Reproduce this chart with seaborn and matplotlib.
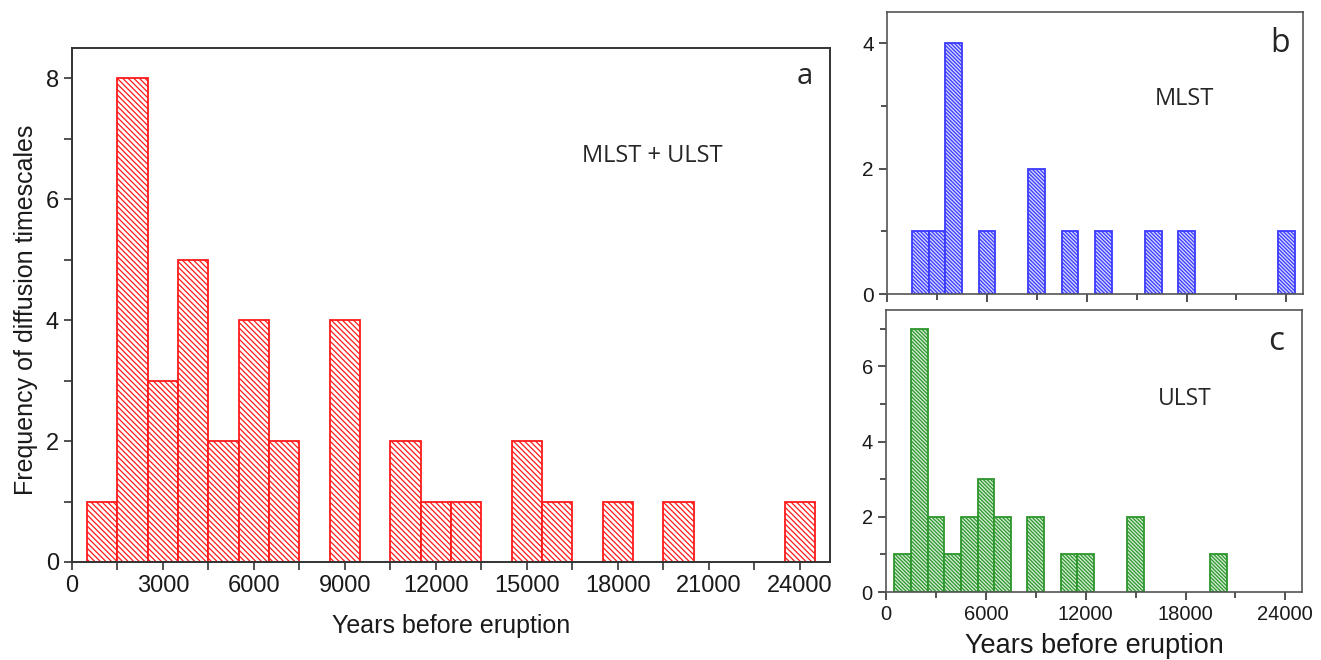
import pandas as pd
import matplotlib.pyplot as plt
from matplotlib.ticker import MultipleLocator
import seaborn as sns

# bin centres (years before eruption) and counts per 1000-yr bin
mlst_years = [2000, 3000, 4000, 6000, 9000, 11000, 13000, 16000, 18000, 24000]
mlst_counts = [1, 1, 4, 1, 2, 1, 1, 1, 1, 1]
ulst_years = [1000, 2000, 3000, 4000, 5000, 6000, 7000, 9000, 11000, 12000, 15000, 20000]
ulst_counts = [1, 7, 2, 1, 2, 3, 2, 2, 1, 1, 2, 1]

all_years = mlst_years + ulst_years
all_counts = mlst_counts + ulst_counts

sns.set_style("ticks")
plt.rcParams['font.family'] = ['Liberation Sans', 'DejaVu Sans']
plt.rcParams['hatch.linewidth'] = 0.9

fig = plt.figure(figsize=(13.21, 6.6), dpi=100)
ax_a = fig.add_axes([0.0545, 0.1485, 0.5738, 0.7788])
ax_b = fig.add_axes([0.6715, 0.5545, 0.3149, 0.4273])
ax_c = fig.add_axes([0.6707, 0.1030, 0.3149, 0.4273])


def hist(ax, years, counts, edge, face, hatch):
    df = pd.DataFrame({'years': years, 'n': counts})
    sns.histplot(data=df, x='years', weights='n', binwidth=1000,
                 binrange=(500, 24500), ax=ax,
                 color=face, edgecolor=edge, linewidth=1.3, alpha=1)
    for p in ax.patches:
        p.set_hatch(hatch)
        p.set_facecolor(face)
        p.set_edgecolor(edge)
        if p.get_height() == 0:
            p.set_visible(False)


hist(ax_a, all_years, all_counts, '#ff1a1a', 'white', '\\' * 6)
hist(ax_b, mlst_years, mlst_counts, '#3a3aff', '#d4d6ff', '\\' * 9)
hist(ax_c, ulst_years, ulst_counts, '#2c962c', '#d2ebd2', '\\' * 9)

for ax in (ax_a, ax_b, ax_c):
    ax.set_xlim(0, 25000)
    for s in ax.spines.values():
        s.set_visible(True)
        s.set_color('#333333')
        s.set_linewidth(1.4)
    ax.tick_params(which='both', direction='out', length=6, width=1.2,
                   color='#333333', labelcolor='#1a1a1a', top=False, right=False)
    ax.set_ylabel('')
    ax.set_xlabel('')

for ax in (ax_b, ax_c):
    for s in ax.spines.values():
        s.set_color('#555555')
        s.set_linewidth(1.2)

# panel a
ax_a.set_ylim(0, 8.5)
ax_a.xaxis.set_major_locator(MultipleLocator(3000))
ax_a.xaxis.set_minor_locator(MultipleLocator(1500))
ax_a.yaxis.set_major_locator(MultipleLocator(2))
ax_a.yaxis.set_minor_locator(MultipleLocator(1))
ax_a.tick_params(labelsize=17)
ax_a.set_xlabel('Years before eruption', fontsize=18, labelpad=12, color='#1a1a1a')
ax_a.set_ylabel('Frequency of diffusion timescales', fontsize=18, color='#1a1a1a')
ax_a.yaxis.set_label_coords(-0.045, 0.49)
ax_a.text(0.766, 0.79, 'MLST + ULST', transform=ax_a.transAxes,
          ha='center', va='center', fontsize=17, family='Open Sans')
ax_a.text(0.967, 0.945, 'a', transform=ax_a.transAxes,
          ha='center', va='center', fontsize=21, family='Open Sans')

# panel b
ax_b.set_ylim(0, 4.5)
ax_b.xaxis.set_major_locator(MultipleLocator(6000))
ax_b.xaxis.set_minor_locator(MultipleLocator(3000))
ax_b.yaxis.set_major_locator(MultipleLocator(2))
ax_b.yaxis.set_minor_locator(MultipleLocator(1))
ax_b.tick_params(labelsize=15, labelbottom=False)
ax_b.tick_params(which='minor', length=4)
ax_b.text(0.714, 0.69, 'MLST', transform=ax_b.transAxes,
          ha='center', va='center', fontsize=17, family='Open Sans')
ax_b.text(0.945, 0.89, 'b', transform=ax_b.transAxes,
          ha='center', va='center', fontsize=23, family='Open Sans')

# panel c
ax_c.set_ylim(0, 7.5)
ax_c.xaxis.set_major_locator(MultipleLocator(6000))
ax_c.xaxis.set_minor_locator(MultipleLocator(3000))
ax_c.yaxis.set_major_locator(MultipleLocator(2))
ax_c.yaxis.set_minor_locator(MultipleLocator(1))
ax_c.tick_params(labelsize=14.5)
ax_c.tick_params(which='minor', length=4)
ax_c.set_xlabel('Years before eruption', fontsize=19.5, labelpad=6, color='#1a1a1a')
ax_c.text(0.719, 0.684, 'ULST', transform=ax_c.transAxes,
          ha='center', va='center', fontsize=16.5, family='Open Sans')
ax_c.text(0.9375, 0.887, 'c', transform=ax_c.transAxes,
          ha='center', va='center', fontsize=24, family='Open Sans')

fig.savefig('out.png', dpi=100)
